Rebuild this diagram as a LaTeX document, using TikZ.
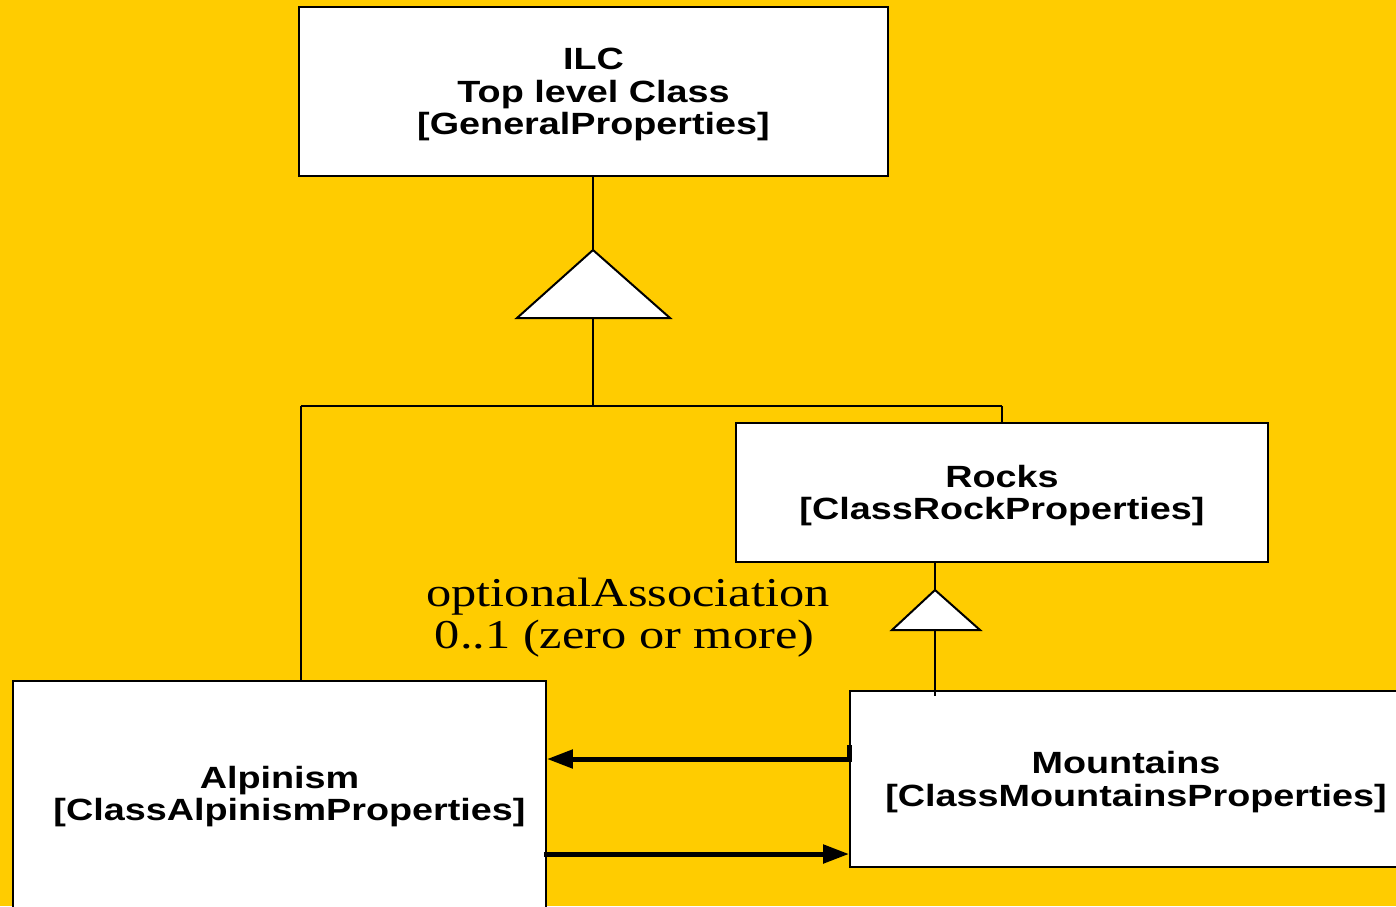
\documentclass[tikz,border=0pt]{standalone}
\usepackage{fontspec}
\setmainfont{Liberation Serif}
\newfontfamily\hsans{Liberation Sans}
\usepackage{graphicx}
\usetikzlibrary{arrows.meta,calc}
\definecolor{bg}{HTML}{FFCC00}
\newcommand{\sx}[1]{\scalebox{1.23}[1]{#1}}
\newcommand{\bx}[1]{\raisebox{-1.6pt}[\height][\depth]{\scalebox{1.23}[1]{#1}}}
\begin{document}
\begin{tikzpicture}[x=0.5pt,y=-0.5pt,
  classbox/.style={draw=black,fill=white,line width=0.9pt,inner sep=0pt,align=center,font=\hsans\bfseries\fontsize{15.35}{16.25}\selectfont},
  link/.style={draw=black,line width=1pt},
  gen/.style={draw=black,fill=white,line width=1pt,line join=miter},
  assoc/.style={draw=black,line width=2.5pt,-{Triangle[length=13pt,width=9pt]}},
  lbl/.style={font=\fontsize{20.5}{21}\selectfont,align=left,inner sep=0pt}
]
\fill[bg] (0,0) rectangle (1396,906);
\clip (0,0) rectangle (1396,906);

% class boxes
\node[classbox,minimum width=294.5pt,minimum height=84.5pt] (ilc) at (593.5,91.5)
  {\bx{ILC}\\\bx{Top level Class}\\\bx{[GeneralProperties]}};
\node[classbox,minimum width=266pt,minimum height=69.5pt] (rocks) at (1002,492.5)
  {\bx{Rocks}\\\bx{[ClassRockProperties]}};
\node[classbox,minimum width=286pt,minimum height=88pt] (mount) at (1136,779)
  {\bx{Mountains}\hspace*{10pt}\\\bx{[ClassMountainsProperties]}};
\node[classbox,minimum width=266.5pt,minimum height=120pt] (alp) at (279.5,801)
  {\bx{Alpinism}\\\hspace*{10pt}\bx{[ClassAlpinismProperties]}\rule[-11pt]{0pt}{0pt}};

% generalization to ILC
\coordinate (t1top) at (593,250);
\coordinate (t1base) at (593,318);
\coordinate (split) at (593,406);
\coordinate (splitL) at (301,406);
\coordinate (splitR) at (1002,406);
\draw[link] (ilc.south -| t1top) -- (t1top);
\draw[gen] (t1top) -- (670,318) -- (517,318) -- cycle;
\draw[link] (t1base) -- (split);
\draw[link] (splitL) -- (splitR);
\draw[link] (splitL) -- (alp.north -| splitL);
\draw[link] (splitR) -- (rocks.north -| splitR);

% generalization to Rocks
\coordinate (t2top) at (935,590);
\coordinate (t2base) at (935,630);
\draw[link] (rocks.south -| t2top) -- (t2top);
\draw[gen] (t2top) -- (980,630) -- (892,630) -- cycle;
\draw[link] (t2base) -- ($(mount.north -| t2base)+(0,6)$);

% associations
\draw[assoc,line join=miter] (mount.west |- 0,745) -- (mount.west |- 0,759) -- (alp.east |- 0,759);
\draw[assoc] ($(alp.east |- 0,854)+(-3,0)$) -- (mount.west |- 0,854);

\node[lbl,anchor=west] (assoclbl) at (426,618)
  {\sx{optionalAssociation}\\\sx{\,0..1 (zero or more)}};
\end{tikzpicture}
\end{document}
